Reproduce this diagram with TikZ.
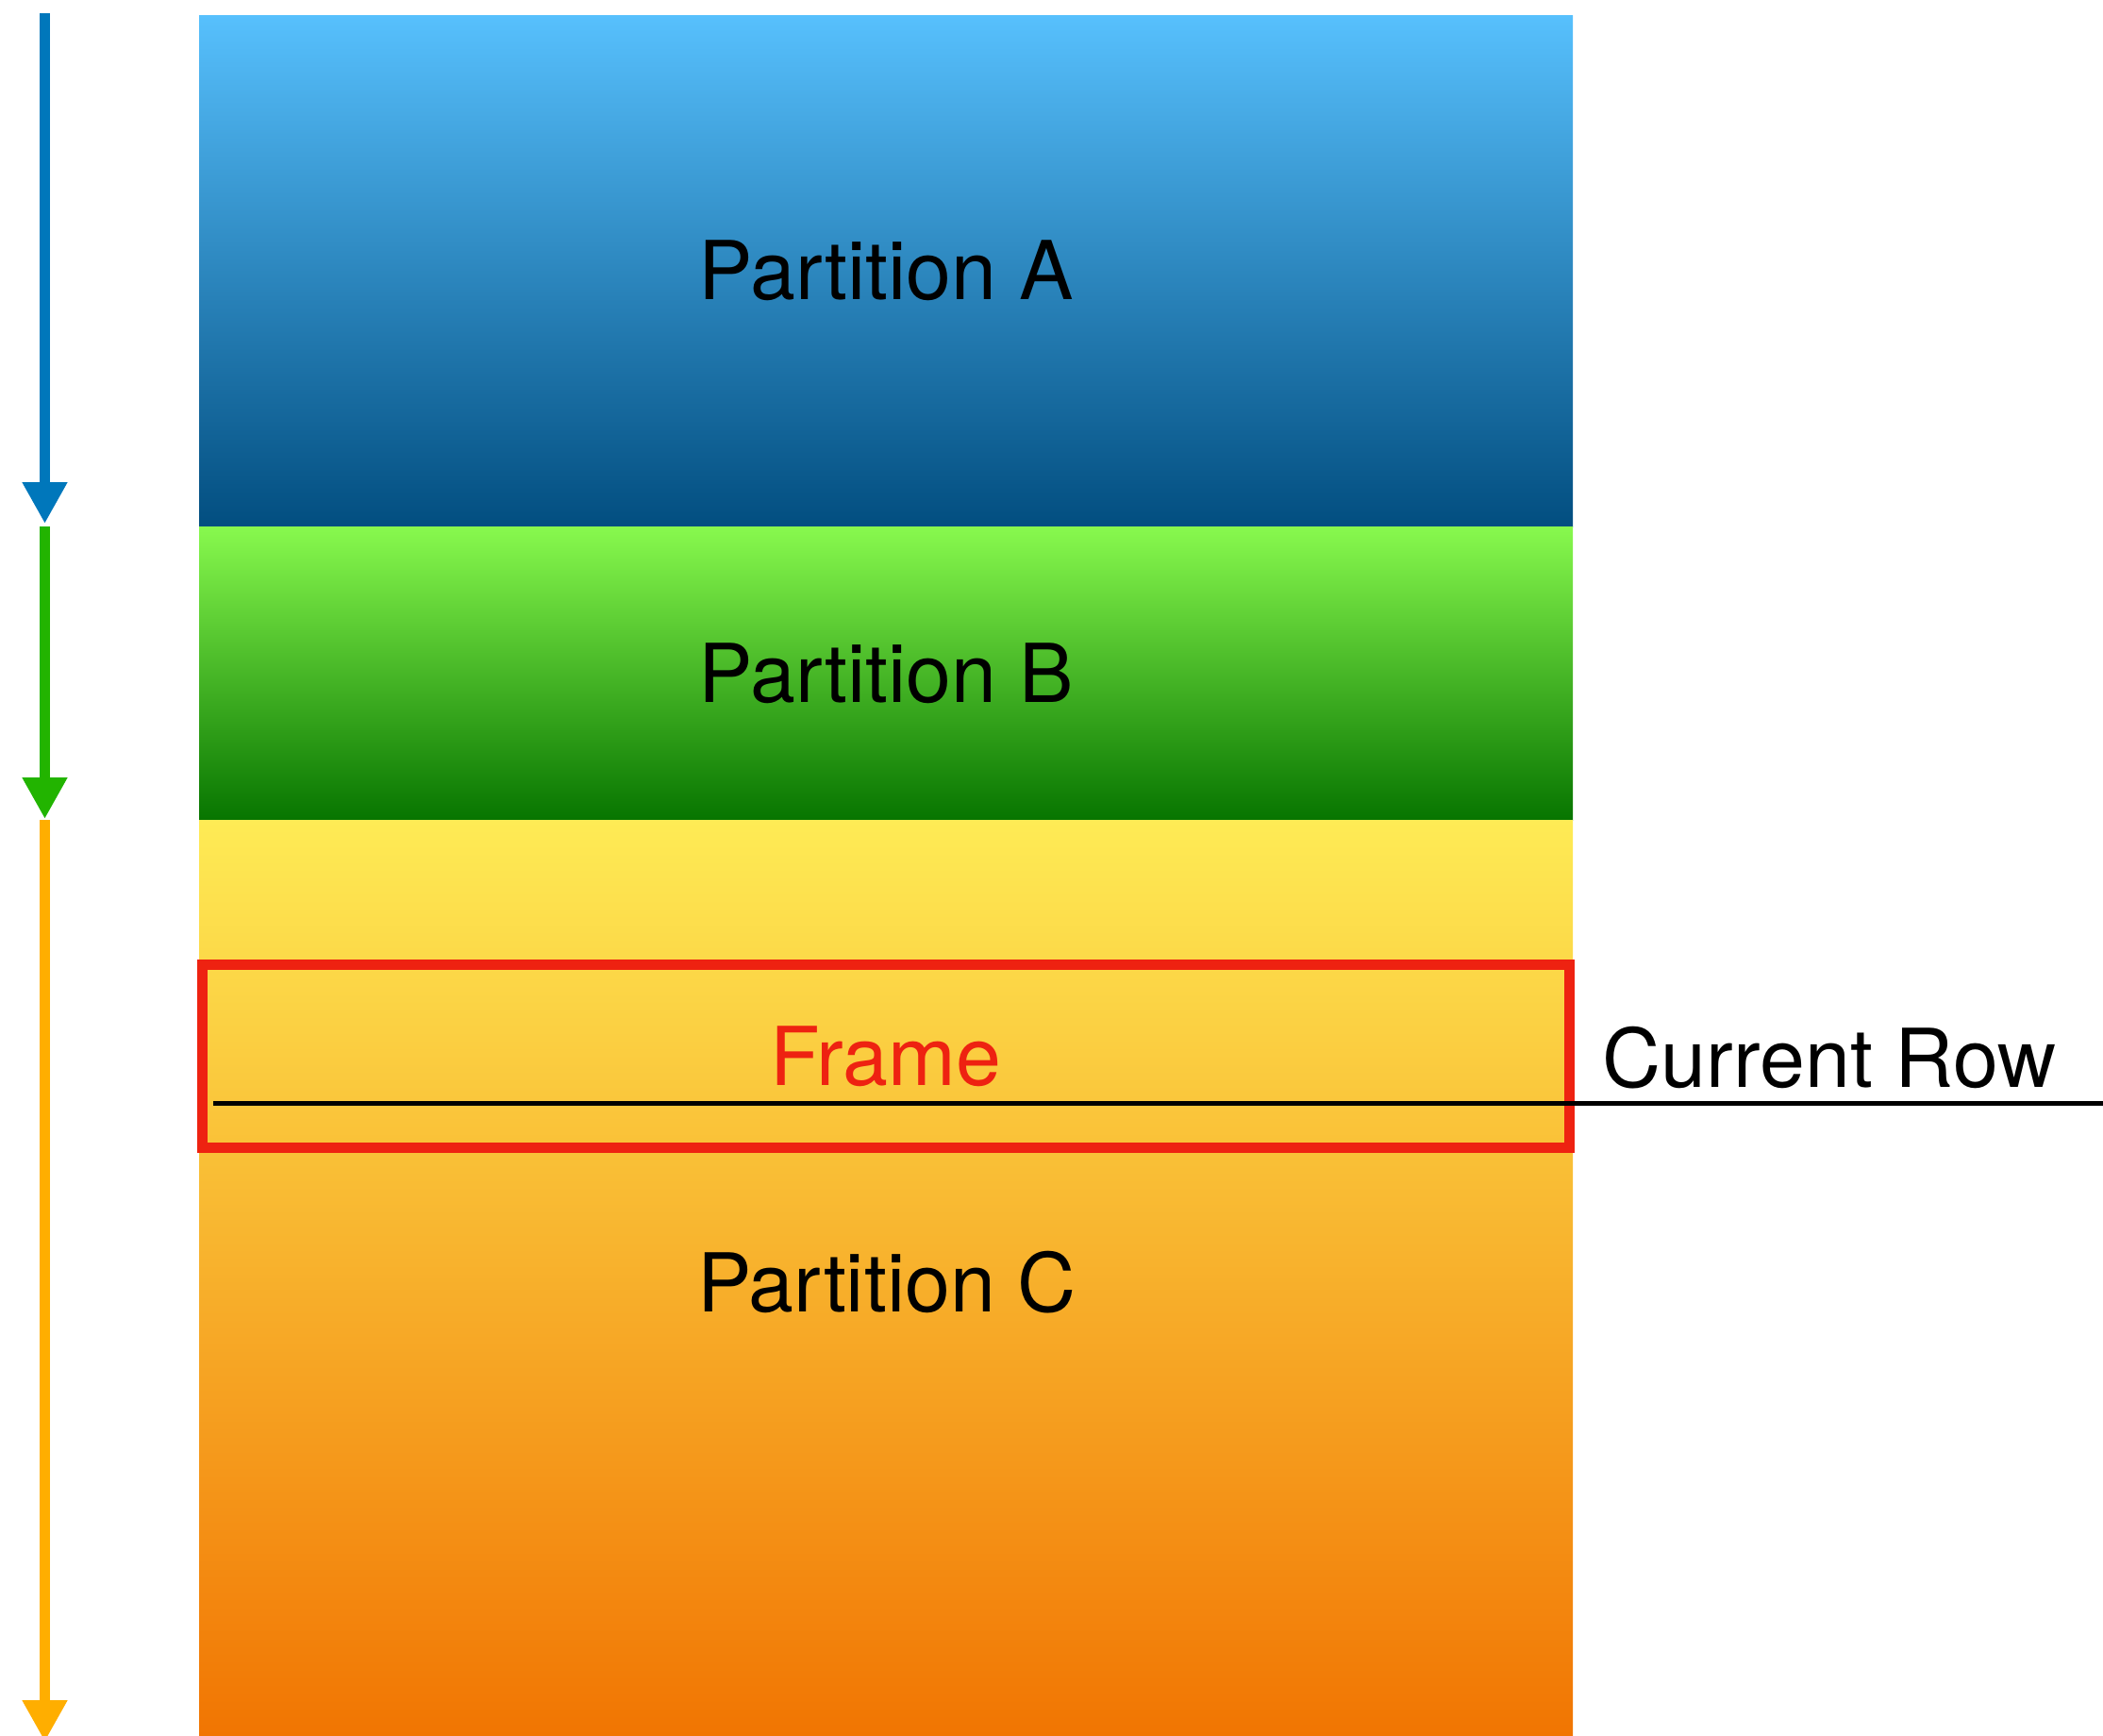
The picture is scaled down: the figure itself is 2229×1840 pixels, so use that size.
\documentclass[tikz,border=0pt]{standalone}
\usepackage{fontspec}
\setmainfont{TeX Gyre Heros}
\usepackage{xcolor}
\usetikzlibrary{arrows.meta,positioning}

\definecolor{aTop}{HTML}{57C0FD}
\definecolor{aBot}{HTML}{024E80}
\definecolor{bTop}{HTML}{88F94E}
\definecolor{bBot}{HTML}{077500}
\definecolor{cTop}{HTML}{FEEB55}
\definecolor{cBot}{HTML}{F17502}
\definecolor{arrA}{HTML}{0077BB}
\definecolor{arrB}{HTML}{22B400}
\definecolor{arrC}{HTML}{FFAE00}
\definecolor{frameRed}{HTML}{EE2211}

\begin{document}
\begin{tikzpicture}[
    x=0.1mm, y=-0.1mm,
    font=\fontsize{24.5}{29}\selectfont,
    part/.style={inner sep=0pt, outer sep=0pt, minimum width=145.6mm, align=center},
    win/.style={draw=frameRed, line width=1.1mm, inner sep=0pt, minimum width=144.85mm, minimum height=19.4mm, text=frameRed},
    flow/.style={line width=1.1mm, -{Triangle[width=4.5mm, length=4.4mm]}},
    rowline/.style={line width=0.5mm, black}
  ]
    \useasboundingbox (0,0) rectangle (2229,1840);

    % partitions, stacked
    \node[part, anchor=north west, minimum height=54.2mm, top color=aTop, bottom color=aBot] (partA) at (211,16) {Partition A};
    \node[part, below=0pt of partA, minimum height=31.1mm, top color=bTop, bottom color=bBot] (partB) {Partition B};
    \node[part, below=0pt of partB, minimum height=97.1mm, top color=cTop, bottom color=cBot] (partC) {};
    \node (labC) at (940,1359) {Partition C};

    % window frame and current row
    \node[win] (frame) at (938.75,1119.5) {Frame};
    \coordinate (rowL) at (226,1169);
    \coordinate (rowR) at (2229,1169);
    \draw[rowline] (rowL) -- (rowR);
    \node[anchor=base, inner sep=0pt] (rowlab) at (1939,1152) {Current Row};

    % processing order
    \coordinate (a0) at (47.5,14);
    \coordinate (a1) at (47.5,555);
    \coordinate (b0) at (47.5,558);
    \coordinate (b1) at (47.5,868);
    \coordinate (c0) at (47.5,869);
    \coordinate (c1) at (47.5,1846);
    \draw[flow, arrA] (a0) -- (a1);
    \draw[flow, arrB] (b0) -- (b1);
    \draw[flow, arrC] (c0) -- (c1);
\end{tikzpicture}
\end{document}
